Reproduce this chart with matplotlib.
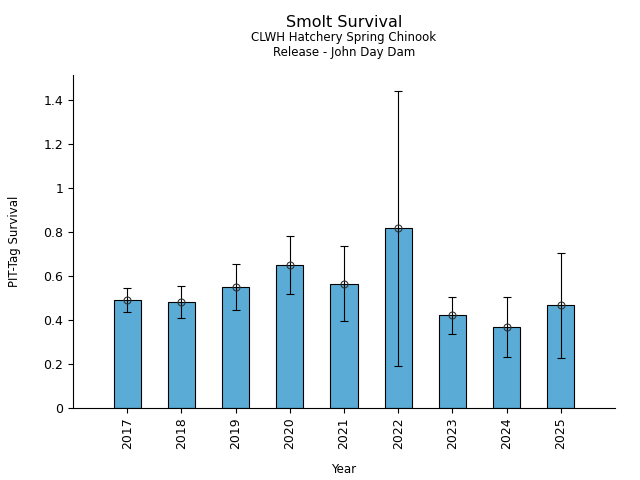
import matplotlib
matplotlib.use('Agg')
import matplotlib.pyplot as plt
from matplotlib.ticker import FuncFormatter

# survival estimates
years = ['2017', '2018', '2019', '2020', '2021', '2022', '2023', '2024', '2025']
survival = [0.490, 0.480, 0.549, 0.649, 0.562, 0.817, 0.421, 0.367, 0.467]
ci_low = [0.435, 0.408, 0.444, 0.517, 0.394, 0.190, 0.335, 0.230, 0.226]
ci_high = [0.544, 0.553, 0.653, 0.780, 0.735, 1.440, 0.503, 0.503, 0.703]

fig = plt.figure(figsize=(6.4, 4.8), dpi=100)
ax = fig.add_axes([0.114, 0.15, 0.847, 0.694])

x = list(range(len(years)))
ax.bar(x, survival, width=0.5, color='#5aacd6', edgecolor='black', linewidth=0.8)

err_lo = [s - l for s, l in zip(survival, ci_low)]
err_hi = [h - s for s, h in zip(survival, ci_high)]
ax.errorbar(x, survival, yerr=[err_lo, err_hi], fmt='o', mfc='none', mec='#333333',
            ms=5, mew=0.8, ecolor='black', elinewidth=0.8, capsize=3, capthick=0.8)

ax.set_xlim(-1, 9)
ax.set_ylim(0, 1.512)
ax.set_xticks(x)
ax.set_xticklabels(years, rotation=90)
ax.set_yticks([0, 0.2, 0.4, 0.6, 0.8, 1.0, 1.2, 1.4])
ax.yaxis.set_major_formatter(FuncFormatter(lambda v, p: '%g' % round(v, 2)))
ax.tick_params(labelsize=9)

ax.spines['top'].set_visible(False)
ax.spines['right'].set_visible(False)

ax.set_xlabel('Year', fontsize=8.5, labelpad=10)
ax.set_ylabel('PIT-Tag Survival', fontsize=8.5, labelpad=16)

cx = 0.114 + 0.847 / 2
fig.text(cx, 0.953, 'Smolt Survival', ha='center', va='center', fontsize=11.5)
fig.text(cx, 0.921, 'CLWH Hatchery Spring Chinook', ha='center', va='center', fontsize=8.5)
fig.text(cx, 0.891, 'Release - John Day Dam', ha='center', va='center', fontsize=8.5)

fig.savefig('out.png', dpi=100)
